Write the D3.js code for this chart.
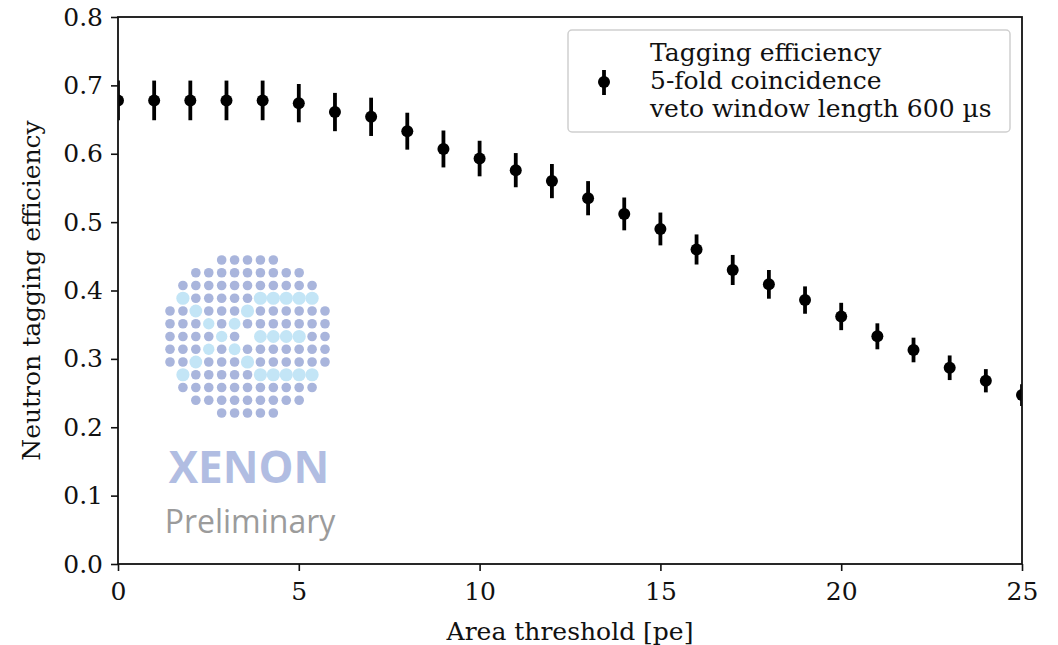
<!DOCTYPE html>
<html>
<head>
<meta charset="utf-8">
<script src="https://cdn.jsdelivr.net/npm/d3@7"></script>
<style>
  html, body { margin: 0; padding: 0; background: #fff; }
  svg { display: block; }
</style>
</head>
<body>
<svg id="chart" width="1058" height="645"></svg>
<script>
// ---- data ----
const thresholds = [0,1,2,3,4,5,6,7,8,9,10,11,12,13,14,15,16,17,18,19,20,21,22,23,24,25];
const efficiency = [0.678,0.678,0.678,0.678,0.678,0.674,0.661,0.654,0.633,0.607,0.593,0.576,0.560,0.535,0.512,0.490,0.460,0.430,0.409,0.386,0.362,0.333,0.313,0.287,0.268,0.247];
const errors     = [0.029,0.029,0.029,0.029,0.029,0.028,0.028,0.028,0.027,0.027,0.026,0.025,0.025,0.025,0.024,0.024,0.022,0.022,0.021,0.020,0.020,0.019,0.018,0.018,0.017,0.016];
const xTicks = [0,5,10,15,20,25];
const yTicks = [0.0,0.1,0.2,0.3,0.4,0.5,0.6,0.7,0.8];
const legendLines = ["Tagging efficiency","5-fold coincidence","veto window length 600 µs"];
const xLabel = "Area threshold [pe]";
const yLabel = "Neutron tagging efficiency";

// ---- layout ----
const L = 118, R = 1022, T = 17, B = 564;
const svg = d3.select("#chart");
const x = d3.scaleLinear().domain([0,25]).range([L,R]);
const y = d3.scaleLinear().domain([0,0.8]).range([B,T]);
const font = "'DejaVu Serif', serif";
const ink = "#111";
const fs = 25;

// ---- watermark logo ----
const logo = svg.append("g").attr("class","logo");
const rowsSpan = [[4,8],[2,10],[1,11],[1,11],[0,12],[0,12],[0,12],[0,12],[0,12],[1,11],[1,11],[2,10],[4,8]];
const lightCells = {
  "3,1":6.6,"3,7":6.6,"3,8":6.6,"3,9":6.6,"3,10":6.6,"3,11":6.6,
  "4,2":6.4,"4,6":6.6,
  "5,3":5.7,"5,5":5.9,
  "6,4":5.7,"6,7":6.4,"6,8":6.4,"6,9":6.4,"6,10":6.6,
  "7,3":5.7,"7,5":5.9,
  "8,2":6.4,"8,6":6.6,
  "9,1":6.6,"9,7":6.6,"9,8":6.6,"9,9":6.6,"9,10":6.6,"9,11":6.6
};
const emptyCells = {"6,6":true};
const gx = d3.scaleLinear().domain([0,12]).range([170,325]);
const gy = d3.scaleLinear().domain([0,12]).range([260,413]);
const dots = [];
rowsSpan.forEach((s,r)=>{
  for(let c=s[0];c<=s[1];c++){
    const k=r+","+c;
    if(emptyCells[k]) continue;
    dots.push({r,c,light:lightCells[k]});
  }
});
logo.selectAll("circle.d").data(dots.filter(d=>!d.light)).join("circle")
  .attr("cx",d=>gx(d.c)).attr("cy",d=>gy(d.r)).attr("r",4.8).attr("fill","#a9b5dc");
logo.selectAll("circle.l").data(dots.filter(d=>d.light)).join("circle")
  .attr("cx",d=>gx(d.c)).attr("cy",d=>gy(d.r)).attr("r",d=>d.light).attr("fill","#c3e5f6");
logo.append("text").attr("x",249).attr("y",483).attr("text-anchor","middle")
  .attr("font-family","'Open Sans', sans-serif").attr("font-weight","700").attr("font-size",44)
  .attr("fill","#b1bde2").text("XENON");
logo.append("text").attr("x",250).attr("y",533).attr("text-anchor","middle")
  .attr("font-family","'Open Sans', sans-serif").attr("font-size",32)
  .attr("fill","#9b9b9b").text("Preliminary");

// ---- data marks ----
svg.append("clipPath").attr("id","clip").append("rect")
  .attr("x",L).attr("y",T).attr("width",R-L).attr("height",B-T);
const pts = svg.append("g").attr("clip-path","url(#clip)");
const data = thresholds.map((t,i)=>({t, v:efficiency[i], e:errors[i]}));
pts.selectAll("line.err").data(data).join("line")
  .attr("x1",d=>x(d.t)).attr("x2",d=>x(d.t))
  .attr("y1",d=>y(d.v-d.e)).attr("y2",d=>y(d.v+d.e))
  .attr("stroke","#000").attr("stroke-width",3.8);
pts.selectAll("circle.pt").data(data).join("circle")
  .attr("cx",d=>x(d.t)).attr("cy",d=>y(d.v)).attr("r",6).attr("fill","#000");

// ---- axes ----
const xAxis = svg.append("g").attr("transform",`translate(0,${B})`)
  .call(d3.axisBottom(x).tickValues(xTicks).tickSize(7).tickPadding(6).tickFormat(d3.format("d")));
const yAxis = svg.append("g").attr("transform",`translate(${L},0)`)
  .call(d3.axisLeft(y).tickValues(yTicks).tickSize(7).tickPadding(8).tickFormat(d3.format(".1f")));
[xAxis,yAxis].forEach(a=>{
  a.select(".domain").remove();
  a.selectAll(".tick line").attr("stroke",ink).attr("stroke-width",1.6);
  a.selectAll(".tick text").attr("font-family",font).attr("font-size",fs).attr("fill",ink);
});
xAxis.selectAll(".tick text").attr("y",36).attr("dy",0);
// frame
svg.append("rect").attr("x",L).attr("y",T).attr("width",R-L).attr("height",B-T)
  .attr("fill","none").attr("stroke",ink).attr("stroke-width",1.8);

// axis labels
svg.append("text").attr("x",(L+R)/2).attr("y",640).attr("text-anchor","middle")
  .attr("font-family",font).attr("font-size",fs).attr("fill",ink).text(xLabel);
svg.append("text").attr("transform",`translate(40,${(T+B)/2}) rotate(-90)`).attr("text-anchor","middle")
  .attr("font-family",font).attr("font-size",fs).attr("fill",ink).text(yLabel);

// ---- legend ----
const lg = svg.append("g");
lg.append("rect").attr("x",568).attr("y",30).attr("width",442).attr("height",102).attr("rx",4)
  .attr("fill","#fff").attr("fill-opacity",0.85).attr("stroke","#cfcfcf").attr("stroke-width",1.5);
lg.append("line").attr("x1",604).attr("x2",604).attr("y1",70).attr("y2",95)
  .attr("stroke","#000").attr("stroke-width",3.8);
lg.append("circle").attr("cx",604).attr("cy",82).attr("r",6).attr("fill","#000");
lg.selectAll("text").data(legendLines).join("text")
  .attr("x",650).attr("y",(d,i)=>61+i*28)
  .attr("font-family",font).attr("font-size",fs).attr("fill",ink).text(d=>d);
</script>
</body>
</html>
